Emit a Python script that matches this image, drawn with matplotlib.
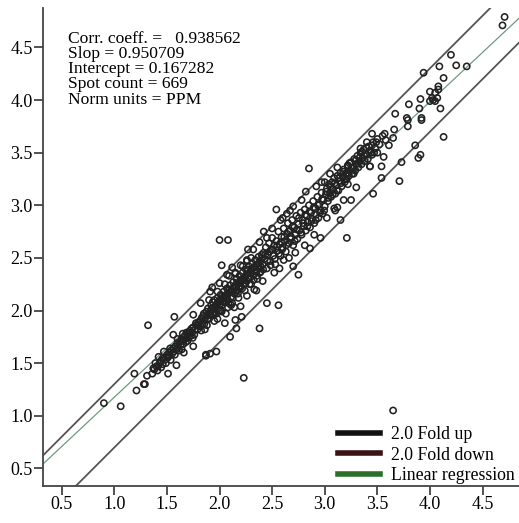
import numpy as np
import matplotlib
matplotlib.use('Agg')
import matplotlib.pyplot as plt

plt.rcParams['font.family'] = ['Liberation Serif', 'DejaVu Serif']

# stats shown in the corner box
stats_lines = ['Corr. coeff. =   0.938562', 'Slop = 0.950709', 'Intercept = 0.167282',
               'Spot count = 669', 'Norm units = PPM']

x_ticks = [0.5, 1.0, 1.5, 2.0, 2.5, 3.0, 3.5, 4.0, 4.5]
y_ticks = [0.5, 1.0, 1.5, 2.0, 2.5, 3.0, 3.5, 4.0, 4.5]

fold = 2.0
# regression line as drawn (end points)
reg_x = [0.32, 4.85]
reg_y = [0.54, 4.78]

# spots (log intensity)
low_spots = [(0.90, 1.12), (1.06, 1.09), (1.19, 1.40), (1.21, 1.24), (1.28, 1.30), (1.29, 1.30),
             (1.31, 1.38), (1.32, 1.86), (1.51, 1.40), (1.59, 1.48), (1.57, 1.94), (1.56, 1.77),
             (1.66, 1.60), (1.75, 1.96), (1.75, 1.66), (1.64, 1.63), (1.87, 1.58), (1.97, 1.61),
             (1.91, 1.59), (1.87, 1.57), (2.23, 1.36), (3.65, 1.05), (2.00, 2.67), (2.08, 2.67)]

band_a = [(1.36, 1.40), (1.38, 1.44), (1.40, 1.47), (1.41, 1.43), (1.43, 1.50), (1.44, 1.52),
          (1.46, 1.49), (1.47, 1.55), (1.48, 1.53), (1.50, 1.58), (1.51, 1.56), (1.52, 1.60),
          (1.54, 1.62), (1.55, 1.59), (1.56, 1.64), (1.58, 1.66), (1.59, 1.63), (1.60, 1.69),
          (1.62, 1.70), (1.63, 1.67), (1.64, 1.73), (1.66, 1.72), (1.67, 1.76), (1.68, 1.70),
          (1.70, 1.78), (1.71, 1.75), (1.72, 1.81), (1.74, 1.79), (1.75, 1.84), (1.76, 1.77),
          (1.78, 1.86), (1.79, 1.82), (1.80, 1.89), (1.82, 1.85), (1.39, 1.50), (1.42, 1.56),
          (1.47, 1.61), (1.53, 1.64), (1.60, 1.73), (1.65, 1.78), (1.69, 1.74), (1.73, 1.76)]

band_b = [(1.83, 1.93), (1.84, 1.88), (1.85, 1.97), (1.86, 1.91), (1.88, 1.95), (1.89, 2.02),
          (1.90, 1.92), (1.91, 1.99), (1.92, 2.05), (1.93, 1.97), (1.94, 2.03), (1.95, 2.10),
          (1.96, 1.98), (1.97, 2.06), (1.98, 2.12), (1.99, 2.02), (2.00, 2.09), (2.01, 2.15),
          (2.02, 2.05), (2.03, 2.12), (2.04, 2.18), (2.05, 2.08), (2.06, 2.14), (2.07, 2.21),
          (2.08, 2.10), (2.09, 2.17), (2.10, 2.24), (2.11, 2.13), (2.12, 2.20), (2.13, 2.27),
          (2.14, 2.16), (2.15, 2.23), (2.16, 2.30), (2.17, 2.19), (2.18, 2.26), (2.19, 2.33),
          (2.20, 2.22), (2.21, 2.29), (2.22, 2.36), (2.23, 2.25), (2.24, 2.32), (2.25, 2.39),
          (2.26, 2.28), (2.27, 2.35), (2.28, 2.42), (2.29, 2.31), (2.30, 2.38), (2.31, 2.45),
          (2.32, 2.34), (2.33, 2.41), (2.34, 2.48), (2.35, 2.37), (2.36, 2.44), (2.37, 2.51),
          (2.38, 2.40), (2.39, 2.47), (2.40, 2.53), (1.88, 1.86), (1.95, 1.90), (2.02, 1.99),
          (2.08, 2.03), (2.12, 2.07), (2.18, 2.12), (2.24, 2.19), (2.30, 2.25), (2.36, 2.30),
          (1.90, 2.10), (1.98, 2.18), (2.05, 2.25), (2.15, 2.36), (2.22, 2.42), (2.30, 2.50),
          (1.82, 2.07), (1.91, 2.18), (2.02, 2.43), (2.07, 2.34), (2.15, 2.35), (2.20, 2.43),
          (2.26, 2.47), (2.27, 2.39), (2.20, 2.29), (1.86, 1.82), (2.10, 1.75), (2.16, 1.83),
          (2.21, 1.94), (2.20, 2.04), (2.15, 1.91), (2.05, 1.88), (2.38, 1.83), (2.45, 2.07),
          (2.56, 2.05), (2.35, 2.19), (2.39, 2.37), (1.97, 1.97), (2.01, 2.00), (2.11, 2.05)]

band_c = [(2.41, 2.44), (2.42, 2.55), (2.43, 2.49), (2.44, 2.60), (2.45, 2.40), (2.46, 2.53),
          (2.47, 2.64), (2.48, 2.47), (2.49, 2.58), (2.50, 2.69), (2.51, 2.52), (2.52, 2.62),
          (2.53, 2.44), (2.54, 2.66), (2.55, 2.57), (2.56, 2.75), (2.57, 2.63), (2.58, 2.52),
          (2.59, 2.70), (2.60, 2.60), (2.61, 2.78), (2.62, 2.66), (2.63, 2.56), (2.64, 2.73),
          (2.65, 2.83), (2.66, 2.64), (2.67, 2.76), (2.68, 2.70), (2.69, 2.86), (2.70, 2.62),
          (2.71, 2.79), (2.72, 2.72), (2.73, 2.90), (2.74, 2.68), (2.75, 2.82), (2.76, 2.76),
          (2.77, 2.93), (2.78, 2.72), (2.79, 2.86), (2.80, 2.80), (2.81, 2.96), (2.82, 2.76),
          (2.83, 2.90), (2.84, 2.84), (2.85, 3.00), (2.86, 2.79), (2.87, 2.93), (2.88, 2.87),
          (2.89, 3.04), (2.90, 2.83), (2.91, 2.97), (2.92, 2.91), (2.93, 3.08), (2.94, 2.88),
          (2.95, 3.01), (2.96, 2.95), (2.97, 3.12), (2.98, 2.92), (2.99, 3.05), (3.00, 2.99),
          (2.85, 3.35), (2.54, 2.96), (2.50, 2.78), (2.42, 2.75), (2.70, 2.99), (2.92, 3.18),
          (2.27, 2.58), (2.26, 2.48), (2.75, 2.34), (2.70, 2.42), (2.86, 2.59), (2.96, 2.69),
          (3.15, 2.86), (3.21, 2.69), (2.61, 2.48), (2.39, 2.42), (2.58, 2.86), (2.64, 2.92)]

band_d = [(3.01, 3.10), (3.02, 3.16), (3.03, 3.04), (3.04, 3.20), (3.05, 3.12), (3.06, 3.08),
          (3.07, 3.22), (3.08, 3.15), (3.09, 3.26), (3.10, 3.11), (3.11, 3.19), (3.12, 3.28),
          (3.13, 3.14), (3.14, 3.23), (3.15, 3.31), (3.16, 3.18), (3.17, 3.27), (3.18, 3.34),
          (3.19, 3.22), (3.20, 3.30), (3.21, 3.25), (3.22, 3.37), (3.23, 3.28), (3.24, 3.33),
          (3.25, 3.41), (3.26, 3.30), (3.27, 3.36), (3.28, 3.44), (3.29, 3.33), (3.30, 3.39),
          (3.31, 3.47), (3.32, 3.36), (3.33, 3.42), (3.34, 3.50), (3.35, 3.39), (3.36, 3.45),
          (3.37, 3.53), (3.38, 3.42), (3.40, 3.48), (3.42, 3.56), (3.44, 3.50), (3.46, 3.60),
          (3.48, 3.54), (3.50, 3.63), (3.52, 3.58), (3.55, 3.66), (3.58, 3.62), (3.22, 3.37),
          (3.43, 3.37), (3.22, 3.38), (3.10, 2.95), (3.25, 3.05), (3.00, 3.22), (3.09, 2.97)]

band_e = [(1.37, 1.45), (1.415, 1.47), (1.445, 1.46), (1.455, 1.54), (1.49, 1.50), (1.505, 1.55),
          (1.525, 1.57), (1.535, 1.53), (1.565, 1.61), (1.575, 1.58), (1.605, 1.65), (1.615, 1.62),
          (1.635, 1.71), (1.655, 1.68), (1.675, 1.73), (1.685, 1.79), (1.695, 1.71), (1.715, 1.79),
          (1.735, 1.83), (1.745, 1.74), (1.765, 1.82), (1.775, 1.88), (1.795, 1.86), (1.815, 1.90),
          (1.825, 1.81), (1.845, 1.95), (1.855, 1.87), (1.875, 1.99), (1.885, 1.92), (1.905, 1.96),
          (1.925, 2.01), (1.935, 2.08), (1.945, 1.96), (1.965, 2.04), (1.985, 2.08), (1.995, 2.00)]

band_f = [(2.005, 2.06), (2.015, 2.11), (2.035, 2.08), (2.045, 2.14), (2.065, 2.11), (2.075, 2.16),
          (2.085, 2.07), (2.095, 2.20), (2.115, 2.18), (2.125, 2.12), (2.135, 2.22), (2.155, 2.19),
          (2.165, 2.26), (2.175, 2.16), (2.185, 2.23), (2.205, 2.27), (2.215, 2.21), (2.235, 2.30),
          (2.245, 2.26), (2.255, 2.34), (2.275, 2.30), (2.285, 2.25), (2.295, 2.36), (2.315, 2.40),
          (2.325, 2.29), (2.345, 2.43), (2.355, 2.33), (2.375, 2.45), (2.385, 2.36), (2.405, 2.50),
          (2.415, 2.39), (2.435, 2.53), (2.455, 2.47), (2.475, 2.56), (2.485, 2.43), (2.505, 2.58),
          (2.525, 2.49), (2.545, 2.61), (2.565, 2.54), (2.585, 2.65), (2.595, 2.58)]

band_g = [(2.615, 2.70), (2.635, 2.62), (2.655, 2.75), (2.675, 2.68), (2.695, 2.80), (2.715, 2.66),
          (2.735, 2.77), (2.755, 2.88), (2.775, 2.74), (2.795, 2.83), (2.815, 2.91), (2.835, 2.80),
          (2.855, 2.94), (2.875, 2.85), (2.895, 2.98), (2.915, 2.86), (2.935, 3.00), (2.955, 2.93),
          (2.975, 3.06), (2.995, 2.95), (3.015, 3.13), (3.035, 3.07), (3.055, 3.18), (3.075, 3.10),
          (3.095, 3.21), (3.115, 3.14), (3.135, 3.26), (3.155, 3.21), (3.175, 3.32), (3.195, 3.25),
          (3.215, 3.31), (3.235, 3.40), (3.255, 3.35), (3.275, 3.30), (3.295, 3.43), (3.315, 3.40),
          (3.335, 3.46), (3.355, 3.51), (3.375, 3.47), (3.395, 3.55), (3.41, 3.44), (3.43, 3.52),
          (3.45, 3.57), (3.47, 3.50), (3.49, 3.60)]

band_edges = [(1.93, 2.22), (2.00, 2.26), (2.09, 2.33), (2.12, 2.41), (2.32, 2.58), (2.38, 2.65),
              (2.45, 2.69), (2.60, 2.88), (2.67, 2.95), (2.78, 3.05), (2.82, 3.13), (2.97, 3.22),
              (3.05, 3.30), (3.12, 3.36), (1.98, 1.92), (2.06, 1.97), (2.14, 2.03), (2.26, 2.14),
              (2.33, 2.20), (2.41, 2.28), (2.52, 2.36), (2.57, 2.40), (2.66, 2.50), (2.72, 2.55),
              (2.81, 2.62), (2.90, 2.72), (3.02, 2.88), (3.12, 2.98), (3.18, 3.05), (3.30, 3.17)]

high_spots = [(3.80, 3.96), (3.67, 3.87), (3.91, 4.01), (3.92, 3.81), (3.79, 3.81), (3.79, 3.75),
              (3.65, 3.64), (3.57, 3.68), (3.45, 3.68), (3.86, 3.57), (3.91, 3.48), (3.89, 3.45),
              (3.73, 3.41), (3.54, 3.37), (3.54, 3.26), (3.71, 3.23), (3.22, 3.20), (3.46, 3.11),
              (3.45, 3.48), (3.34, 3.54), (3.66, 3.72), (3.61, 3.57), (4.00, 4.08), (4.05, 4.07),
              (4.03, 4.00), (4.71, 4.79), (4.69, 4.71), (4.20, 4.43), (4.25, 4.33), (4.35, 4.32),
              (4.09, 4.32), (3.94, 4.26), (4.13, 4.21), (4.08, 4.13), (4.08, 4.10), (4.02, 4.02),
              (4.07, 4.02), (4.05, 3.99), (4.00, 3.99), (3.90, 3.92), (4.10, 3.92), (3.78, 3.83),
              (4.13, 3.65), (3.92, 3.83), (3.43, 3.37), (3.50, 3.50), (3.56, 3.46), (3.40, 3.60)]

all_spots = (low_spots + band_a + band_b + band_c + band_d + band_e + band_f + band_g
             + band_edges + high_spots)
spot_x = [p[0] for p in all_spots]
spot_y = [p[1] for p in all_spots]

fig = plt.figure(figsize=(5.19, 5.23), dpi=100)
ax = fig.add_axes([0.083, 0.0707, 0.917, 0.914])

ax.scatter(spot_x, spot_y, s=20, facecolors='none', edgecolors='#222222', linewidths=1.15, zorder=3)

off = np.log10(fold)
lx = np.array([0.0, 5.2])
ax.plot(lx, lx + off, color='#555555', lw=1.3, label='2.0 Fold up', zorder=2)
ax.plot(lx, lx - off, color='#555555', lw=1.3, label='2.0 Fold down', zorder=2)
ax.plot(reg_x, reg_y, color='#6f9a80', lw=0.9, label='Linear regression', zorder=2)

ax.set_xlim(0.322, 4.847)
ax.set_ylim(0.332, 4.875)
ax.set_xticks(x_ticks)
ax.set_yticks(y_ticks)
ax.set_xticklabels([f'{t:.1f}' for t in x_ticks])
ax.set_yticklabels([f'{t:.1f}' for t in y_ticks])

for s in ['top', 'right']:
    ax.spines[s].set_visible(False)
for s in ['left', 'bottom']:
    ax.spines[s].set_linewidth(1.3)
    ax.spines[s].set_color('#444444')
ax.tick_params(direction='out', length=6.5, width=1.3, color='#444444',
               labelsize=13, pad=1)

# one text block so the tight line spacing of the original is kept
fig.text(0.131, 1 - 31 / 523, '\n'.join(stats_lines), fontsize=12.6, va='top', ha='left',
         linespacing=0.93)

leg = ax.legend(loc='lower left', bbox_to_anchor=(0.615, 0.0), frameon=False, fontsize=12.8,
                handlelength=2.4, handletextpad=0.6, labelspacing=0.2,
                borderaxespad=0.0, borderpad=0.1)
leg_colors = ['#111111', '#3a1218', '#2a6e2a']
for ln, c in zip(leg.get_lines(), leg_colors):
    ln.set_color(c)
    ln.set_linewidth(4)

fig.savefig('out.png', dpi=100)
